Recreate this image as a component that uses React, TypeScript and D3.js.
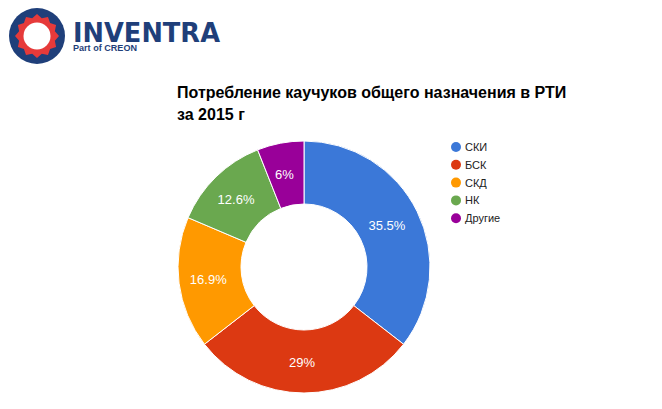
import React from 'react';
import * as d3 from 'd3';

const categories = ['СКИ', 'БСК', 'СКД', 'НК', 'Другие'];
const values = [35.5, 29, 16.9, 12.6, 6];
const colors = ['#3b78d8', '#dc3912', '#ff9900', '#6aa84f', '#990099'];
const titleLines = ['Потребление каучуков общего назначения в РТИ', 'за 2015 г'];

const width = 662;
const height = 409;

function Logo() {
  const cx = 37;
  const cy = 36;
  // gear shape: alternating radii
  const teeth = 12;
  const pts: [number, number][] = [];
  for (let i = 0; i < teeth * 2; i++) {
    const a = (i / (teeth * 2)) * Math.PI * 2;
    const r = i % 2 === 0 ? 22 : 18.5;
    pts.push([cx + r * Math.sin(a), cy - r * Math.cos(a)]);
  }
  const gear = d3.line().curve(d3.curveLinearClosed)(pts) || '';
  return (
    <g>
      <circle cx={cx} cy={cy} r={28} fill="#1f3f7a" />
      <path d={gear} fill="#e63a3a" />
      <circle cx={cx} cy={cy} r={13.5} fill="#fff" />
      <text x={73} y={42} fontFamily="'DejaVu Sans', Arial, sans-serif" fontWeight="bold" fontSize={26} fill="#1f3f7a" textLength={147} lengthAdjust="spacingAndGlyphs">
        INVENTRA
      </text>
      <text x={73} y={51} fontFamily="Arial, 'Liberation Sans', sans-serif" fontWeight="bold" fontSize={9} fill="#1f3f7a" textLength={64} lengthAdjust="spacingAndGlyphs">
        Part of CREON
      </text>
    </g>
  );
}

export default function App() {
  const cx = 304;
  const cy = 267;
  const outerR = 126;
  const innerR = 63;

  const pie = d3.pie<number>().sort(null).value(d => d);
  const arcs = pie(values);
  const arc = d3.arc<d3.PieArcDatum<number>>().innerRadius(innerR).outerRadius(outerR);
  const labelArc = d3.arc<d3.PieArcDatum<number>>().innerRadius((innerR + outerR) / 2).outerRadius((innerR + outerR) / 2);

  const font = "Arial, 'Liberation Sans', sans-serif";

  return (
    <svg width={width} height={height} style={{ position: 'absolute', left: 0, top: 0, background: '#fff' }}>
      <Logo />
      {titleLines.map((t, i) => (
        <text key={i} x={177} y={98 + i * 22} fontFamily={font} fontWeight="bold" fontSize={16} fill="#000">
          {t}
        </text>
      ))}
      <g transform={`translate(${cx},${cy})`}>
        {arcs.map((a, i) => (
          <path key={i} d={arc(a) || ''} fill={colors[i]} stroke="#fff" strokeWidth={1} />
        ))}
        {arcs.map((a, i) => {
          const [lx, ly] = labelArc.centroid(a);
          return (
            <text key={'l' + i} x={lx - 2} y={ly + 5} textAnchor="middle" fontFamily={font} fontSize={13} fill="#fff">
              {values[i]}%
            </text>
          );
        })}
      </g>
      {categories.map((c, i) => (
        <g key={c} transform={`translate(456,${147 + i * 17.8})`}>
          <circle cx={0} cy={0} r={5} fill={colors[i]} />
          <text x={9} y={4} fontFamily={font} fontSize={11} fill="#222">
            {c}
          </text>
        </g>
      ))}
    </svg>
  );
}
